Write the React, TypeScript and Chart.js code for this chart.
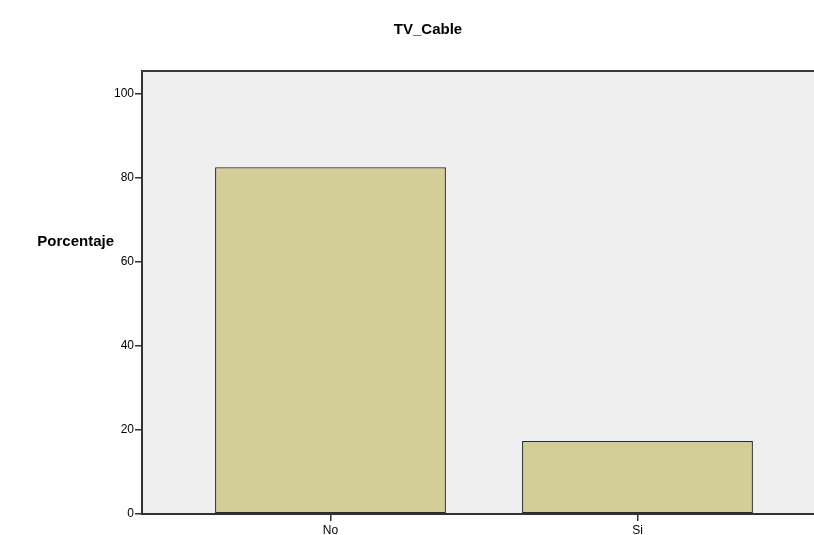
import React, { useEffect, useRef } from "react";
import { Chart, registerables } from "chart.js";

Chart.register(...registerables);

const TITLE = "TV_Cable";
const Y_TITLE = "Porcentaje";
const categories = ["No", "Si"];
const percentages = [82.6, 17.4];
const yTicks = [0, 20, 40, 60, 80, 100];

const FONT = "'Liberation Sans', Arial, sans-serif";

const decorPlugin = {
  id: "decor",
  beforeDraw(chart: any) {
    const { ctx, chartArea } = chart;
    ctx.save();
    ctx.fillStyle = "#efefef";
    ctx.fillRect(chartArea.left, chartArea.top, chartArea.right - chartArea.left, chartArea.bottom - chartArea.top);
    ctx.restore();
  },
  afterDraw(chart: any) {
    const { ctx, chartArea } = chart;
    ctx.save();
    ctx.strokeStyle = "#3a3a3a";
    ctx.lineWidth = 2;
    ctx.beginPath();
    ctx.moveTo(chartArea.left, chartArea.top);
    ctx.lineTo(chartArea.right, chartArea.top);
    ctx.stroke();
    ctx.fillStyle = "#000";
    ctx.font = "bold 15px " + FONT;
    ctx.textAlign = "center";
    ctx.textBaseline = "middle";
    ctx.fillText(TITLE, 428, 30);
    ctx.font = "bold 15px " + FONT;
    ctx.textAlign = "right";
    ctx.fillText(Y_TITLE, 114, 242);
    ctx.restore();
  },
};

export default function App() {
  const ref = useRef<HTMLCanvasElement>(null);
  useEffect(() => {
    const chart = new Chart(ref.current!, {
      type: "bar",
      data: {
        datasets: [
          {
            data: percentages.map((v, i) => ({ x: i, y: v })),
            backgroundColor: "#d3ce98",
            borderColor: "#2a2a2a",
            borderWidth: 1.3,
            borderSkipped: false,
            barPercentage: 0.752,
            categoryPercentage: 1,
          },
        ],
      },
      options: {
        animation: false,
        responsive: false,
        layout: { padding: { left: 0, top: 71, right: 0, bottom: 0 } },
        plugins: { legend: { display: false }, tooltip: { enabled: false }, title: { display: false } },
        scales: {
          x: {
            type: "linear",
            offset: false,
            min: -0.614,
            max: 1.575,
            afterBuildTicks: (s: any) => {
              s.ticks = categories.map((_, i) => ({ value: i }));
            },
            afterFit: (s: any) => {
              s.height = 21;
            },
            ticks: {
              callback: (v: any) => categories[v] ?? "",
              color: "#000",
              font: { family: FONT, size: 12 },
              padding: 2,
              maxRotation: 0,
            },
            grid: { offset: false, drawOnChartArea: false, drawTicks: true, tickLength: 7, color: "#333", lineWidth: 1.5 },
            border: { display: true, color: "#333", width: 2 },
          },
          y: {
            min: 0,
            max: 105.5,
            afterBuildTicks: (s: any) => {
              s.ticks = yTicks.map((v) => ({ value: v }));
            },
            afterFit: (s: any) => {
              s.width = 142;
            },
            ticks: {
              color: "#000",
              font: { family: FONT, size: 12 },
              padding: 1,
            },
            grid: { drawOnChartArea: false, drawTicks: true, tickLength: 7, color: "#333", lineWidth: 1.5 },
            border: { display: true, color: "#333", width: 2 },
          },
        },
      },
      plugins: [decorPlugin],
    });
    return () => chart.destroy();
  }, []);
  return (
    <div style={{ position: "fixed", left: 0, top: 0, width: 814, height: 535, overflow: "hidden", background: "#fff" }}>
      <canvas ref={ref} width={814} height={535} style={{ display: "block", width: 814, height: 535 }} />
    </div>
  );
}
